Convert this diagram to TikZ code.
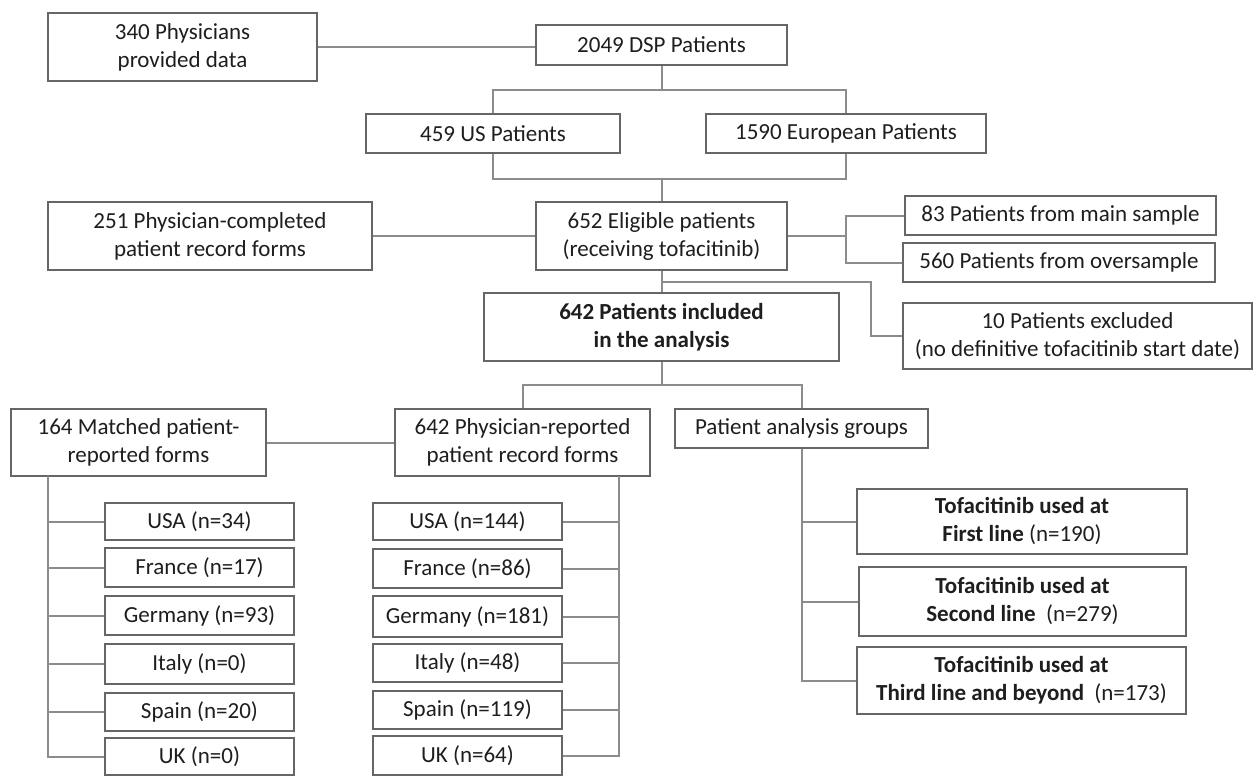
\documentclass[tikz,border=0pt]{standalone}
\usepackage{fontspec}
\setmainfont{Carlito}
\definecolor{boxc}{HTML}{666666}
\definecolor{linec}{HTML}{8C8C8C}
\definecolor{txtc}{HTML}{1E1E1E}
\newcommand{\bxn}[7][]{%
  \pgfmathsetmacro\bxcx{(#3+#5)/2}%
  \pgfmathsetmacro\bxcy{(#4+#6)/2}%
  \pgfmathsetmacro\bxw{(#5-#3)*0.5}%
  \pgfmathsetmacro\bxh{(#6-#4)*0.5}%
  \node[bx,minimum width=\bxw pt,minimum height=\bxh pt,#1] (#2) at (\bxcx,\bxcy) {#7};}
\begin{document}
\begin{tikzpicture}[x=0.5pt,y=-0.5pt,
  bx/.style={draw=boxc, line width=1pt, inner sep=0pt, align=center, text=txtc,
             font=\fontsize{11.5}{14}\selectfont},
  ln/.style={draw=linec, line width=1pt}]
\useasboundingbox (0,0) rectangle (1255,776);
\fill[white] (0,0) rectangle (1255,776);
% top part
\bxn{phys}{48}{13}{317}{81}{340 Physicians\\provided data}
\bxn{dsp}{536}{25}{787}{65}{2049 DSP Patients}
\bxn{us}{366}{114}{620}{153}{459 US Patients}
\bxn{eu}{706}{114}{986}{153}{1590 European Patients}
\bxn{c251}{48}{202}{372}{270}{251 Physician-completed\\patient record forms}
\bxn{elig}{536}{202}{787}{270}{652 Eligible patients\\(receiving tofacitinib)}
\bxn{s83}{905}{196}{1216}{235}{83 Patients from main sample}
\bxn{s560}{903}{243}{1215}{282}{560 Patients from oversample}
\bxn[font=\fontsize{11.5}{14}\selectfont\bfseries]{incl}{484}{293}{839}{361}{642 Patients included\\in the analysis}
\bxn{excl}{903}{303}{1252}{369}{10 Patients excluded\\(no definitive tofacitinib start date)}
% middle
\bxn{match}{11}{409}{266}{476}{164 Matched patient-\\reported forms}
\bxn{prep}{395}{409}{650}{476}{642 Physician-reported\\patient record forms}
\bxn{groups}{675}{409}{928}{448}{Patient analysis groups}
% left countries
\bxn{lusa}{105}{503}{294}{540}{USA (n=34)}
\bxn{lfra}{105}{548}{294}{587}{France (n=17)}
\bxn{lger}{105}{596}{294}{635}{Germany (n=93)}
\bxn{lita}{105}{644}{294}{684}{Italy (n=0)}
\bxn{lspa}{105}{693}{294}{731}{Spain (n=20)}
\bxn{luk}{105}{738}{294}{775}{UK (n=0)}
% right countries
\bxn{rusa}{373}{503}{562}{540}{USA (n=144)}
\bxn{rfra}{373}{549}{562}{588}{France (n=86)}
\bxn{rger}{373}{596}{562}{637}{Germany (n=181)}
\bxn{rita}{373}{644}{562}{682}{Italy (n=48)}
\bxn{rspa}{373}{691}{562}{729}{Spain (n=119)}
\bxn{ruk}{373}{736}{562}{775}{UK (n=64)}
% analysis groups
\bxn{t1}{857}{489}{1187}{554}{{\bfseries Tofacitinib used at}\\{\bfseries First line} (n=190)}
\bxn{t2}{859}{567}{1186}{636}{{\bfseries Tofacitinib used at}\\{\bfseries Second line}\ \ (n=279)}
\bxn{t3}{857}{647}{1186}{714}{{\bfseries Tofacitinib used at}\\{\bfseries Third line and beyond}\ \ (n=173)}
% junction coordinates
\coordinate (b1) at (661.5,90);
\coordinate (b2) at (661.5,179);
\coordinate (b3) at (846,236);
\coordinate (b4) at (661.5,282);
\coordinate (b5) at (871,336);
\coordinate (b6) at (661.5,385);
\coordinate (lt) at (48,476);
\coordinate (rt) at (619,476);
% connectors
\draw[ln] (phys.east) -- (phys.east -| dsp.west);
\draw[ln] (dsp.south) -- (b1);
\draw[ln] (us.north) |- (b1) -| (eu.north);
\draw[ln] (us.south) |- (b2) -| (eu.south);
\draw[ln] (b2) -- (elig.north);
\draw[ln] (c251.east) -- (elig.west);
\draw[ln] (elig.east) -- (b3);
\draw[ln] (s83.west) -| (b3) |- (s560.west);
\draw[ln] (elig.south) -- (incl.north);
\draw[ln] (b4) -| (b5) -- (excl.west);
\draw[ln] (incl.south) -- (b6);
\draw[ln] (prep.north) |- (b6) -| (groups.north);
\draw[ln] (match.east) -- (prep.west);
\foreach \n in {lusa,lfra,lger,lita,lspa,luk} \draw[ln] (lt) |- (\n.west);
\foreach \n in {rusa,rfra,rger,rita,rspa,ruk} \draw[ln] (rt) |- (\n.east);
\foreach \n in {t1,t2,t3} \draw[ln] (groups.south) |- (\n.west);
\end{tikzpicture}
\end{document}
